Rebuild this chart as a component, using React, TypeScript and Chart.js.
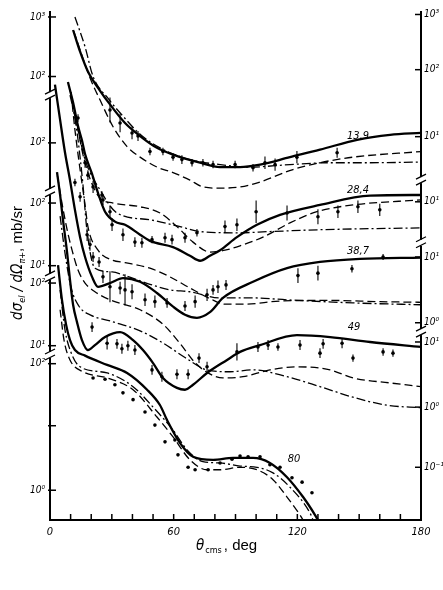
import { useEffect, useRef } from "react";
import { Chart, registerables } from "chart.js";

Chart.register(...registerables);

// x: scattering angle theta_cms (deg); y: position on the stacked log axis, in decades above the bottom edge
type Pt = [number, number];
type PtE = [number, number, number];

// ---- 13.9 MeV ----
const e139Solid: Pt[] = [[11.2,7.9],[14.6,7.55],[18.4,7.23],[24.3,6.92],[29.1,6.7],[36.4,6.4],[43.7,6.19],[51.9,6.0],[59.7,5.89],[72.8,5.76],[82.5,5.69],[92.2,5.69],[101.9,5.73],[116.4,5.85],[131,5.97],[149,6.13],[165,6.21],[180,6.24]];
const e139Dashed: Pt[] = [[11.5,7.88],[19.4,7.13],[24.3,6.77],[30.6,6.34],[37.4,6.02],[43.7,5.85],[51.9,5.69],[59.7,5.6],[67.9,5.48],[74.2,5.37],[82.5,5.35],[92.2,5.37],[101.9,5.45],[117.9,5.65],[131,5.76],[147,5.85],[180,5.94]];
const e139DashDot: Pt[] = [[12.1,8.11],[17,7.63],[20.9,7.15],[28.1,6.8],[34.9,6.53],[43.7,6.22],[53.4,6.0],[67.9,5.81],[82.5,5.73],[97,5.69],[116.4,5.73],[135.9,5.76],[155.3,5.76],[180,5.77]];
const e139Data: PtE[] = [[29.1,6.61,0.2],[34,6.4,0.15],[39.8,6.24,0.1],[42.7,6.19,0.08],[48.5,5.94,0.06],[54.8,5.94,0.06],[59.7,5.85,0.06],[64,5.81,0.07],[68.9,5.76,0.06],[74.2,5.76,0.06],[79.1,5.73,0.06],[89.8,5.73,0.06],[98.5,5.68,0.06],[104.3,5.76,0.1],[109.2,5.73,0.1],[119.8,5.85,0.1],[139.3,5.92,0.08]];

// ---- 28.4 MeV ----
const e284Solid: Pt[] = [[8.7,7.06],[11.2,6.73],[13.6,6.35],[15.5,6.12],[17,5.9],[20.4,5.58],[23.3,5.27],[26.7,4.97],[31.5,4.81],[36.4,4.76],[43.7,4.6],[48.5,4.5],[59.7,4.4],[67.9,4.26],[72.8,4.18],[77.6,4.26],[82.5,4.35],[90.7,4.56],[100.4,4.76],[111.6,4.92],[131,5.08],[155.3,5.23],[180,5.24]];
const e284Dashed: Pt[] = [[9.7,6.94],[13,6.4],[16,5.89],[20,5.45],[24.3,5.19],[30.6,5.11],[43.7,5.05],[53.4,4.95],[61.6,4.73],[69.4,4.48],[77.6,4.32],[84.9,4.35],[92.2,4.42],[103.3,4.56],[116.4,4.79],[129.5,4.97],[147,5.08],[180,5.16]];
const e284DashDot: Pt[] = [[9.7,6.85],[13.6,6.29],[17,5.81],[24.3,5.32],[32.5,4.95],[48.5,4.84],[63.1,4.73],[72.8,4.65],[90.7,4.63],[106.7,4.65],[131,4.68],[180,4.71]];
const e284Data: PtE[] = [[13.6,6.48,0.06],[17,5.76,0.08],[18.4,5.56,0.08],[20.9,5.37,0.1],[25.2,5.24,0.06],[25.7,5.16,0.08],[29.1,4.97,0.1],[30.1,4.76,0.1],[35.4,4.6,0.1],[41.2,4.48,0.08],[44.6,4.47,0.08],[49.5,4.52,0.06],[55.8,4.55,0.08],[59.2,4.52,0.08],[65.5,4.55,0.08],[71.3,4.63,0.06],[84.9,4.73,0.1],[90.7,4.76,0.1],[100,4.97,0.18],[115,4.95,0.12],[130,4.89,0.12],[139.7,4.97,0.1],[149.4,5.05,0.1],[160,5.0,0.1]];

// ---- 38.7 MeV ----
const e387Solid: Pt[] = [[2.4,7.02],[4.9,6.45],[7.3,5.92],[9.7,5.48],[12.1,5.0],[14.6,4.56],[17,4.24],[20.4,3.92],[23.3,3.76],[29.1,3.82],[35.4,3.9],[43.7,3.84],[51.9,3.66],[59.7,3.44],[65.5,3.31],[71.3,3.26],[77.6,3.35],[83.9,3.58],[98.5,3.84],[115,4.06],[131,4.16],[150.4,4.21],[180,4.23]];
const e387Dashed: Pt[] = [[10.2,6.9],[12.1,6.29],[14.6,5.65],[17,5.08],[18.4,4.73],[23.3,4.35],[30.1,4.19],[36.4,4.15],[48.5,4.06],[58.2,3.92],[67.9,3.74],[77.6,3.57],[84.9,3.48],[94.6,3.48],[111.6,3.53],[135.9,3.54],[160,3.52],[180,3.51]];
const e387DashDot: Pt[] = [[10.7,6.77],[13.6,6.13],[16,5.4],[17.9,4.68],[21.8,4.06],[30.1,4.0],[36.4,3.94],[48.5,3.8],[58.2,3.71],[67.9,3.68],[82.5,3.58],[98.5,3.58],[115,3.55],[147,3.5],[180,3.47]];
const e387Data: PtE[] = [[12.1,5.44,0.06],[14.6,5.21,0.08],[18,4.6,0.1],[19.4,4.44,0.1],[20.9,4.24,0.08],[23.8,4.16,0.08],[25.7,3.92,0.1],[29.1,3.76,0.25],[34,3.74,0.1],[36.4,3.71,0.25],[39.8,3.68,0.12],[46.1,3.55,0.1],[50.9,3.52,0.1],[56.8,3.5,0.08],[65.5,3.45,0.08],[70.4,3.52,0.1],[76.2,3.63,0.1],[79.1,3.71,0.08],[81.5,3.76,0.1],[85.4,3.79,0.08],[120.3,3.94,0.12],[130,3.98,0.12],[146.5,4.05,0.06],[161.6,4.24,0.05]];

// ---- 49 MeV ----
const e49Solid: Pt[] = [[3.4,5.61],[4.9,5.24],[6.3,4.84],[8.3,4.31],[9.7,3.87],[11.2,3.47],[13.1,3.19],[15.5,2.9],[18.4,2.74],[21.8,2.82],[26.7,2.95],[34,3.03],[40.3,2.9],[45.1,2.74],[50,2.53],[54.8,2.29],[61.6,2.13],[65.5,2.1],[69.4,2.18],[76.2,2.37],[85.9,2.58],[92.2,2.71],[101.9,2.82],[119.8,2.98],[135.9,2.95],[155.3,2.87],[180,2.79]];
const e49Dashed: Pt[] = [[3.6,5.55],[5.8,5.11],[8.3,4.68],[10.7,4.35],[13.6,4.03],[17,3.82],[21.8,3.68],[29.1,3.55],[43.7,3.39],[55,3.15],[63,2.85],[70,2.55],[76.2,2.38],[83.9,2.29],[93.6,2.31],[106.7,2.42],[119.8,2.47],[135.9,2.42],[147,2.29],[165,2.21],[180,2.15]];
const e49DashDot: Pt[] = [[4.9,4.9],[7.3,4.3],[10.2,3.75],[14,3.45],[20,3.3],[30,3.2],[43.7,3.05],[55,2.85],[65.5,2.62],[76.2,2.42],[87.4,2.39],[98.5,2.42],[115,2.31],[131,2.15],[147,1.98],[163.5,1.85],[180,1.81]];
const e49Data: PtE[] = [[20.4,3.11,0.08],[27.7,2.85,0.1],[32.5,2.84,0.08],[34.9,2.76,0.08],[37.8,2.81,0.08],[41.2,2.74,0.08],[49.5,2.42,0.08],[54.3,2.31,0.08],[61.6,2.35,0.08],[67,2.35,0.08],[72.3,2.61,0.08],[76.2,2.47,0.08],[90.7,2.71,0.14],[100.9,2.79,0.08],[105.8,2.82,0.08],[110.6,2.79,0.06],[121.3,2.82,0.08],[131,2.69,0.08],[132.5,2.84,0.08],[141.7,2.85,0.08],[147,2.61,0.06],[161.6,2.71,0.06],[166.4,2.69,0.06]];

// ---- 80 MeV ----
const e80Solid: Pt[] = [[3.9,4.11],[5.8,3.55],[7.8,3.15],[9.7,2.9],[12.1,2.74],[17,2.65],[27.7,2.5],[37.4,2.37],[47.1,2.1],[53.4,1.85],[56.8,1.61],[63.1,1.24],[69.4,1.02],[79.1,0.97],[88.8,1.0],[98.5,1.0],[106.7,0.92],[115,0.69],[122.8,0.37],[128.6,0.08],[130,0]];
const e80DashDot: Pt[] = [[4.9,3.71],[7.3,3.06],[10.7,2.66],[14.6,2.47],[27.7,2.37],[40.3,2.15],[50,1.82],[59.7,1.45],[66.5,1.13],[74.2,0.94],[82.5,0.92],[92.2,0.87],[100.4,0.85],[108.2,0.76],[116.4,0.53],[126.2,0.11],[127.6,0]];
const e80Dashed: Pt[] = [[4.9,3.39],[6.8,2.9],[9.7,2.58],[16,2.39],[27.7,2.29],[40.3,2.1],[51.9,1.66],[59.7,1.34],[67.9,0.97],[76.2,0.81],[82.5,0.81],[92.2,0.85],[100.4,0.81],[108.2,0.65],[115,0.37],[121.3,0.08],[122.8,0]];
const e80Data: Pt[] = [[20.9,2.29],[26.7,2.27],[31.5,2.18],[35.4,2.05],[40.3,1.94],[46.1,1.74],[50.9,1.53],[55.8,1.26],[60.6,1.29],[62.1,1.05],[67,0.85],[70.4,0.81],[76.7,0.81],[82.5,0.92],[88.3,0.98],[92.2,1.03],[96.1,1.02],[101.9,1.02],[106.7,0.89],[111.6,0.85],[117.4,0.68],[122.3,0.61],[127.1,0.44]];

// ---- axes ----
const xTicks = [0,10,20,30,40,50,60,70,80,90,100,110,120,130,140,150,160,170,180];
const xLabels = [0, 60, 120, 180];
const leftTickPos = [8.11, 7.15, 6.08, 5.11, 4.1, 3.82, 2.81, 2.52, 1.52, 0.48];
const leftTickLabels = ["10³", "10²", "10²", "10²", "10¹", "10²", "10¹", "10²", "", "10⁰"];
const rightTickPos = [8.15, 7.26, 6.18, 5.13, 4.24, 3.18, 2.87, 1.82, 0.85];
const rightTickLabels = ["10³", "10²", "10¹", "10¹", "10¹", "10⁰", "10¹", "10⁰", "10⁻¹"];
const leftBreaks = [6.85, 5.29, 3.92, 2.66];
const rightBreaks = [5.48, 4.47, 3.03];
const curveLabels = ["13,9", "28,4", "38,7", "49", "80"];
const curveLabelPos: Pt[] = [[149.4, 6.19], [149.4, 5.31], [149.4, 4.34], [147.5, 3.11], [118.4, 0.98]];

const errGroups = [e139Data, e284Data, e387Data, e49Data];

const FONT = "'DejaVu Sans Condensed', 'Liberation Sans Narrow', 'DejaVu Sans', sans-serif";

const toXY = (a: Pt[] | PtE[]) => a.map((p) => ({ x: p[0], y: p[1] }));

const curve = (data: Pt[], kind: "solid" | "dash" | "dashdot") => ({
  type: "line" as const,
  data: toXY(data),
  borderColor: "#000",
  borderWidth: kind === "solid" ? 2.3 : 1.3,
  borderDash: kind === "dash" ? [8, 4] : kind === "dashdot" ? [9, 3, 2, 3] : [],
  pointRadius: 0,
  cubicInterpolationMode: "monotone" as const,
  fill: false,
});

const points = (data: Pt[] | PtE[]) => ({
  type: "scatter" as const,
  data: toXY(data),
  pointRadius: 1.8,
  pointStyle: "circle" as const,
  backgroundColor: "#000",
  borderColor: "#000",
  borderWidth: 0,
  showLine: false,
});

const decor = {
  id: "decor",
  afterDraw(chart: any) {
    const { ctx, chartArea, scales } = chart;
    const xs = scales.x;
    const ys = scales.y;
    const { left, right, bottom } = chartArea;
    ctx.save();
    ctx.strokeStyle = "#000";
    ctx.fillStyle = "#000";

    // error bars
    ctx.lineWidth = 1.1;
    for (const g of errGroups) {
      for (const [a, v, e] of g) {
        const px = xs.getPixelForValue(a);
        ctx.beginPath();
        ctx.moveTo(px, ys.getPixelForValue(v - e));
        ctx.lineTo(px, ys.getPixelForValue(v + e));
        ctx.stroke();
      }
    }

    // inward tick marks
    ctx.lineWidth = 1.5;
    for (const v of xTicks) {
      const px = xs.getPixelForValue(v);
      ctx.beginPath();
      ctx.moveTo(px, bottom);
      ctx.lineTo(px, bottom - 6);
      ctx.stroke();
    }
    for (const v of leftTickPos) {
      const py = ys.getPixelForValue(v);
      ctx.beginPath();
      ctx.moveTo(left - 2, py);
      ctx.lineTo(left + 6, py);
      ctx.stroke();
    }
    for (const v of rightTickPos) {
      const py = ys.getPixelForValue(v);
      ctx.beginPath();
      ctx.moveTo(right + 1, py);
      ctx.lineTo(right - 6, py);
      ctx.stroke();
    }

    // axis breaks
    const drawBreak = (ax: number, py: number) => {
      ctx.fillStyle = "#fff";
      ctx.fillRect(ax - 3, py - 3, 6, 6);
      ctx.strokeStyle = "#000";
      ctx.lineWidth = 1.3;
      ctx.beginPath();
      ctx.moveTo(ax - 5, py - 1);
      ctx.lineTo(ax + 5, py - 6);
      ctx.moveTo(ax - 5, py + 5);
      ctx.lineTo(ax + 5, py);
      ctx.stroke();
    };
    for (const v of leftBreaks) drawBreak(left, ys.getPixelForValue(v));
    for (const v of rightBreaks) drawBreak(right, ys.getPixelForValue(v));

    // curve labels
    ctx.fillStyle = "#000";
    ctx.font = `italic 11px ${FONT}`;
    ctx.textAlign = "center";
    ctx.textBaseline = "middle";
    curveLabels.forEach((t, i) => {
      const [a, v] = curveLabelPos[i];
      ctx.fillText(t, xs.getPixelForValue(a), ys.getPixelForValue(v));
    });

    // x title
    ctx.textAlign = "left";
    ctx.textBaseline = "alphabetic";
    let cx = 196;
    const by = 550;
    ctx.font = `italic 15px ${FONT}`;
    ctx.fillText("θ", cx, by);
    cx += ctx.measureText("θ").width + 1;
    ctx.font = `9px ${FONT}`;
    ctx.fillText("cms", cx, by + 3);
    cx += ctx.measureText("cms").width + 2;
    ctx.font = `15px 'Liberation Sans', Arial, sans-serif`;
    ctx.fillText(", deg", cx, by);

    // y title (rotated)
    ctx.translate(22, 263);
    ctx.rotate(-Math.PI / 2);
    const parts: [string, string, number][] = [
      ["dσ", `italic 15px ${FONT}`, 0],
      ["el", `italic 9px ${FONT}`, 3],
      [" / d", `italic 15px ${FONT}`, 0],
      ["Ω", `italic 15px ${FONT}`, 0],
      ["π+", `italic 9px ${FONT}`, 3],
      [", mb/sr", `15px 'Liberation Sans', Arial, sans-serif`, 0],
    ];
    let total = 0;
    for (const [t, f] of parts) {
      ctx.font = f;
      total += ctx.measureText(t).width;
    }
    let tx = -total / 2;
    for (const [t, f, dy] of parts) {
      ctx.font = f;
      ctx.fillText(t, tx, dy);
      tx += ctx.measureText(t).width;
    }
    ctx.restore();
  },
};

export default function App() {
  const ref = useRef<HTMLCanvasElement>(null);
  useEffect(() => {
    document.body.style.margin = "0";
    const tickFont = { family: FONT, size: 10, style: "italic" as const };
    const chart = new Chart(ref.current!, {
      type: "line",
      data: {
        datasets: [
          curve(e139Solid, "solid"), curve(e139Dashed, "dash"), curve(e139DashDot, "dashdot"), points(e139Data),
          curve(e284Solid, "solid"), curve(e284Dashed, "dash"), curve(e284DashDot, "dashdot"), points(e284Data),
          curve(e387Solid, "solid"), curve(e387Dashed, "dash"), curve(e387DashDot, "dashdot"), points(e387Data),
          curve(e49Solid, "solid"), curve(e49Dashed, "dash"), curve(e49DashDot, "dashdot"), points(e49Data),
          curve(e80Solid, "solid"), curve(e80Dashed, "dash"), curve(e80DashDot, "dashdot"), points(e80Data),
        ] as any,
      },
      options: {
        responsive: false,
        animation: false,
        layout: { padding: { top: 12, left: 0, right: 0, bottom: 0 } },
        plugins: { legend: { display: false }, tooltip: { enabled: false } },
        scales: {
          x: {
            type: "linear",
            min: 0,
            max: 180,
            position: "bottom",
            afterBuildTicks: (s: any) => { s.ticks = xTicks.map((v) => ({ value: v })); },
            afterFit: (s: any) => { s.height = 70; },
            ticks: {
              autoSkip: false,
              maxRotation: 0,
              padding: 6,
              color: "#000",
              font: { family: FONT, size: 11, style: "italic" },
              callback: (v: any) => (xLabels.includes(Number(v)) ? String(v) : ""),
            },
            grid: { display: true, drawOnChartArea: false, drawTicks: false },
            border: { display: true, color: "#000", width: 2 },
          },
          y: {
            type: "linear",
            min: 0,
            max: 8.19,
            position: "left",
            afterBuildTicks: (s: any) => { s.ticks = leftTickPos.map((v) => ({ value: v })); },
            afterFit: (s: any) => { s.width = 50; },
            ticks: {
              autoSkip: false,
              padding: 5,
              color: "#000",
              font: tickFont,
              callback: (_v: any, i: number) => leftTickLabels[i] ?? "",
            },
            grid: { display: true, drawOnChartArea: false, drawTicks: false },
            border: { display: true, color: "#000", width: 2 },
          },
          y2: {
            type: "linear",
            display: true,
            min: 0,
            max: 8.19,
            position: "right",
            afterBuildTicks: (s: any) => { s.ticks = rightTickPos.map((v) => ({ value: v })); },
            afterFit: (s: any) => { s.width = 22; },
            ticks: {
              autoSkip: false,
              padding: 3,
              color: "#000",
              font: tickFont,
              callback: (_v: any, i: number) => rightTickLabels[i] ?? "",
            },
            grid: { display: true, drawOnChartArea: false, drawTicks: false },
            border: { display: true, color: "#000", width: 2 },
          },
        },
      },
      plugins: [decor],
    });
    return () => chart.destroy();
  }, []);
  return (
    <div style={{ width: 443, height: 590 }}>
      <canvas ref={ref} width={443} height={590} style={{ width: "443px", height: "590px", display: "block" }} />
    </div>
  );
}
